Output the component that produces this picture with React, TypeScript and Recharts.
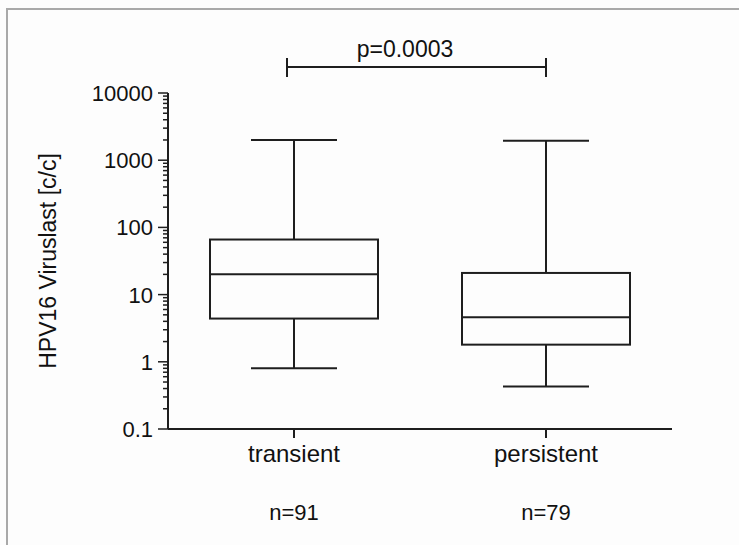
import React from 'react';
import { ComposedChart, Bar, Scatter, XAxis, YAxis } from 'recharts';

// group labels and sample sizes
const categories = ['transient', 'persistent'];
const counts = [91, 79];

// box plot statistics
const whiskerMin = [0.8, 0.43];
const q1 = [4.4, 1.8];
const median = [20, 4.6];
const q3 = [66, 21];
const whiskerMax = [2000, 1950];

const pLabel = 'p=0.0003';

const majorTicks = [0.1, 1, 10, 100, 1000, 10000];
const majorLabels = ['0.1', '1', '10', '100', '1000', '10000'];
const minorSteps = [2, 3, 4, 5, 6, 7, 8, 9];

const allTicks = majorTicks.concat(
  majorTicks.slice(0, -1).flatMap(d => minorSteps.map(m => +(d * m).toPrecision(3)))
).sort((a, b) => a - b);

const data = categories.map((name, i) => ({
  name,
  whisker: [whiskerMin[i], whiskerMax[i]],
  box: [q1[i], q3[i]],
  median: median[i],
}));

const INK = '#1e1e1e';
const FONT = '"Liberation Sans", Arial, sans-serif';

const WhiskerShape = (props: any) => {
  const { x, y, width, height } = props;
  const cx = x + width / 2;
  return (
    <g stroke={INK} strokeWidth={2}>
      <line x1={cx} x2={cx} y1={y} y2={y + height} />
      <line x1={x} x2={x + width} y1={y} y2={y} />
      <line x1={x} x2={x + width} y1={y + height} y2={y + height} />
    </g>
  );
};

const BoxShape = (props: any) => {
  const { x, y, width, height } = props;
  return <rect x={x} y={y} width={width} height={height} fill="#fdfdfd" stroke={INK} strokeWidth={2} />;
};

const MedianShape = (props: any) => {
  const { cx, cy } = props;
  return <line x1={cx - 84} x2={cx + 84} y1={cy} y2={cy} stroke={INK} strokeWidth={2} />;
};

const YTick = (props: any) => {
  const { x, y, payload } = props;
  const idx = majorTicks.indexOf(payload.value);
  const major = idx >= 0;
  return (
    <g>
      <line x1={x - (major ? 10 : 5)} x2={x} y1={y} y2={y} stroke={INK} strokeWidth={1.5} />
      {major && (
        <text x={x - 15} y={y} dy="0.36em" textAnchor="end" fontSize={22} fill="#111" fontFamily={FONT}>
          {majorLabels[idx]}
        </text>
      )}
    </g>
  );
};

const XTick = (props: any) => {
  const { x, y, payload, index } = props;
  return (
    <g>
      <line x1={x} x2={x} y1={y} y2={y + 9} stroke={INK} strokeWidth={2} />
      <text x={x} y={y + 33} textAnchor="middle" fontSize={24} fill="#111" fontFamily={FONT}>
        {payload.value}
      </text>
      <text x={x} y={y + 91} textAnchor="middle" fontSize={22} fill="#111" fontFamily={FONT}>
        {`n=${counts[index]}`}
      </text>
    </g>
  );
};

export default function App() {
  return (
    <div style={{ position: 'absolute', left: 0, top: 0, width: 739, height: 545, background: '#fdfdfd', fontFamily: FONT, overflow: 'hidden' }}>
      <div
        style={{
          position: 'absolute', left: 6, top: 8, width: 800, height: 600,
          borderTop: '2px solid #a9a9a9', borderLeft: '2px solid #a9a9a9',
        }}
      />
      <ComposedChart
        width={739}
        height={545}
        data={data}
        margin={{ top: 93, right: 67, left: 0, bottom: 0 }}
        style={{ position: 'absolute', left: 0, top: 0 }}
      >
        <XAxis
          xAxisId="main"
          dataKey="name"
          height={116}
          axisLine={{ stroke: INK, strokeWidth: 2 }}
          tickLine={false}
          tickSize={0}
          tickMargin={0}
          tick={<XTick />}
          interval={0}
        />
        <XAxis xAxisId="box" dataKey="name" orientation="top" height={0} hide />
        <YAxis
          type="number"
          scale="log"
          domain={[0.1, 10000]}
          allowDataOverflow
          ticks={allTicks}
          interval={0}
          width={168}
          axisLine={{ stroke: INK, strokeWidth: 2 }}
          tickLine={false}
          tickSize={0}
          tickMargin={0}
          tick={<YTick />}
          label={{
            value: 'HPV16 Viruslast [c/c]',
            angle: -90,
            position: 'insideLeft',
            offset: 48,
            style: { textAnchor: 'middle', fontSize: 23, fill: '#111', fontFamily: FONT },
          }}
        />
        <Bar xAxisId="main" dataKey="whisker" barSize={86} shape={<WhiskerShape />} isAnimationActive={false} />
        <Bar xAxisId="box" dataKey="box" barSize={168} shape={<BoxShape />} isAnimationActive={false} />
        <Scatter xAxisId="main" dataKey="median" shape={<MedianShape />} isAnimationActive={false} />
      </ComposedChart>
      <svg width={739} height={545} style={{ position: 'absolute', left: 0, top: 0, pointerEvents: 'none' }}>
        <g stroke={INK} strokeWidth={2}>
          <line x1={287} x2={546} y1={67} y2={67} />
          <line x1={287} x2={287} y1={58} y2={77} />
          <line x1={546} x2={546} y1={58} y2={77} />
        </g>
        <text x={405} y={57} textAnchor="middle" fontSize={23} fill="#111" fontFamily={FONT}>
          {pLabel}
        </text>
      </svg>
    </div>
  );
}
